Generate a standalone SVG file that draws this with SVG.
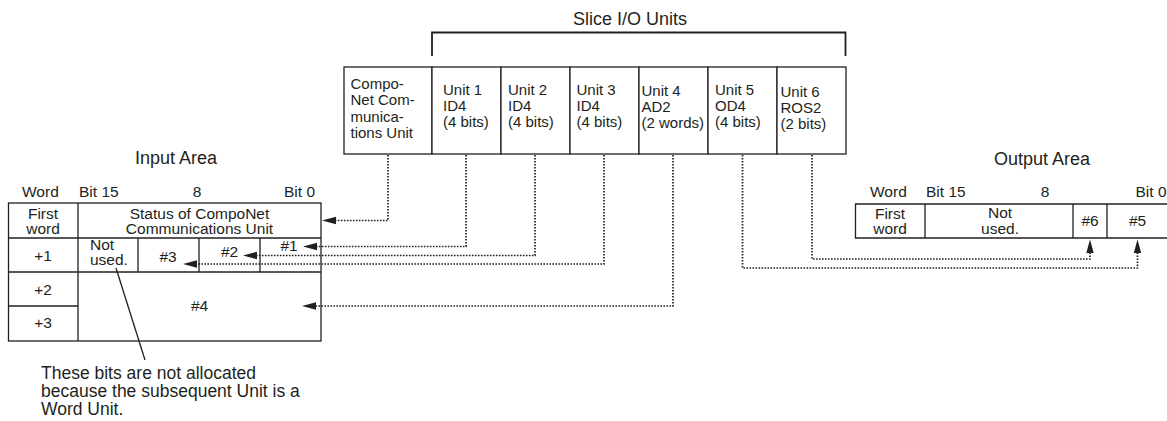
<svg xmlns="http://www.w3.org/2000/svg" width="1167" height="421" viewBox="0 0 1167 421">
<style>
text{font-family:"Liberation Sans",Arial,sans-serif;fill:#231f20}
.h{font-size:18px}
.u{font-size:15px}
.t{font-size:15.5px}
.c{text-anchor:middle}
.e{text-anchor:end}
.box{fill:#fff;stroke:#231f20;stroke-width:1.3}
.ln{fill:none;stroke:#231f20;stroke-width:1.3}
.br{fill:none;stroke:#231f20;stroke-width:1.8}
.dot{fill:none;stroke:#231f20;stroke-width:1.7;stroke-dasharray:1.6 1.4}
.ah{fill:#231f20}
</style>
<rect width="1167" height="421" fill="#fff"/>

<g id="slice-io-units">
<text class="h c" x="630" y="25">Slice I/O Units</text>
<path class="br" d="M432 56V32.5H845.5V56"/>
</g>

<g id="unit-comms">
<rect class="box" x="344" y="67" width="88" height="87"/>
<text class="u"><tspan x="350.5" y="88.5">Compo-</tspan><tspan x="350.5" y="105">Net Com-</tspan><tspan x="350.5" y="121.5">munica-</tspan><tspan x="350.5" y="138">tions Unit</tspan></text>
</g>
<g id="unit-1">
<rect class="box" x="432" y="67" width="69" height="87"/>
<text class="u"><tspan x="443" y="95">Unit 1</tspan><tspan x="443" y="111">ID4</tspan><tspan x="443" y="127">(4 bits)</tspan></text>
</g>
<g id="unit-2">
<rect class="box" x="501" y="67" width="69" height="87"/>
<text class="u"><tspan x="508" y="95">Unit 2</tspan><tspan x="508" y="111">ID4</tspan><tspan x="508" y="127">(4 bits)</tspan></text>
</g>
<g id="unit-3">
<rect class="box" x="570" y="67" width="69" height="87"/>
<text class="u"><tspan x="576.5" y="95">Unit 3</tspan><tspan x="576.5" y="111">ID4</tspan><tspan x="576.5" y="127">(4 bits)</tspan></text>
</g>
<g id="unit-4">
<rect class="box" x="639" y="67" width="69" height="87"/>
<text class="u"><tspan x="641.5" y="95.5">Unit 4</tspan><tspan x="641.5" y="111.5">AD2</tspan><tspan x="641.5" y="127.5">(2 words)</tspan></text>
</g>
<g id="unit-5">
<rect class="box" x="708" y="67" width="69" height="87"/>
<text class="u"><tspan x="715" y="95">Unit 5</tspan><tspan x="715" y="111">OD4</tspan><tspan x="715" y="127">(4 bits)</tspan></text>
</g>
<g id="unit-6">
<rect class="box" x="777" y="67" width="69" height="87"/>
<text class="u"><tspan x="780.5" y="97">Unit 6</tspan><tspan x="780.5" y="113">ROS2</tspan><tspan x="780.5" y="129">(2 bits)</tspan></text>
</g>

<g id="input-area">
<text class="h c" x="176" y="164">Input Area</text>
<text class="t" x="22" y="197">Word</text>
<text class="t" x="79" y="197">Bit 15</text>
<text class="t c" x="197" y="197" font-size="14">8</text>
<text class="t e" x="315" y="197">Bit 0</text>
<rect class="box" x="8.5" y="203" width="312.5" height="138"/>
<path class="ln" d="M78 203V341M8.5 238H321M8.5 272H321M8.5 306H78M138 238V272M199 238V272M260 238V272"/>
<text class="t c"><tspan x="43" y="218.5">First</tspan><tspan x="43" y="233.5">word</tspan></text>
<text class="t c"><tspan x="199.5" y="218.5">Status of CompoNet</tspan><tspan x="199.5" y="233.5">Communications Unit</tspan></text>
<text class="t c" x="43" y="260.5">+1</text>
<text class="t" font-size="14.5"><tspan x="90" y="250">Not</tspan><tspan x="90" y="265">used.</tspan></text>
<text class="t c" x="168" y="261.5">#3</text>
<text class="t c" x="229.5" y="257">#2</text>
<text class="t c" x="289" y="251">#1</text>
<text class="t c" x="43" y="294.5">+2</text>
<text class="t c" x="43" y="328">+3</text>
<text class="t c" x="199.5" y="311">#4</text>
</g>

<g id="output-area">
<text class="h c" x="1042" y="165">Output Area</text>
<text class="t" x="870" y="197">Word</text>
<text class="t" x="926" y="197">Bit 15</text>
<text class="t c" x="1045" y="197" font-size="14">8</text>
<text class="t e" x="1166.5" y="197">Bit 0</text>
<path class="ln" d="M1168 204H855.5V238H1168M925 204V238M1073 204V238M1107 204V238"/>
<text class="t c"><tspan x="890" y="218.5">First</tspan><tspan x="890" y="233.5">word</tspan></text>
<text class="t c"><tspan x="1000" y="218">Not</tspan><tspan x="1000" y="233.5">used.</tspan></text>
<text class="t c" x="1090" y="226">#6</text>
<text class="t c" x="1137.5" y="226">#5</text>
</g>

<g id="annotation">
<path class="ln" d="M116 268L145 360"/>
<text style="font-size:17.5px"><tspan x="41" y="379">These bits are not allocated</tspan><tspan x="41" y="397">because the subsequent Unit is a</tspan><tspan x="41" y="415">Word Unit.</tspan></text>
</g>

<g id="connectors">
<path class="dot" d="M388 155V220.5H336"/>
<path class="ah" d="M322 220.5L336 216.8V224.2Z"/>
<path class="dot" d="M466 155V246.5H317"/>
<path class="ah" d="M303 246.5L317 242.8V250.2Z"/>
<path class="dot" d="M535 155V255.5H257"/>
<path class="ah" d="M243 255.5L257 251.8V259.2Z"/>
<path class="dot" d="M604 155V264H197"/>
<path class="ah" d="M183 264L197 260.3V267.7Z"/>
<path class="dot" d="M673 155V306H316"/>
<path class="ah" d="M302 306L316 302.3V309.7Z"/>
<path class="dot" d="M742.5 155V268H1137.5V253"/>
<path class="ah" d="M1137.5 239.5L1133.8 253H1141.2Z"/>
<path class="dot" d="M812 155V259H1090V253"/>
<path class="ah" d="M1090 239.5L1086.3 253H1093.7Z"/>
</g>
</svg>
